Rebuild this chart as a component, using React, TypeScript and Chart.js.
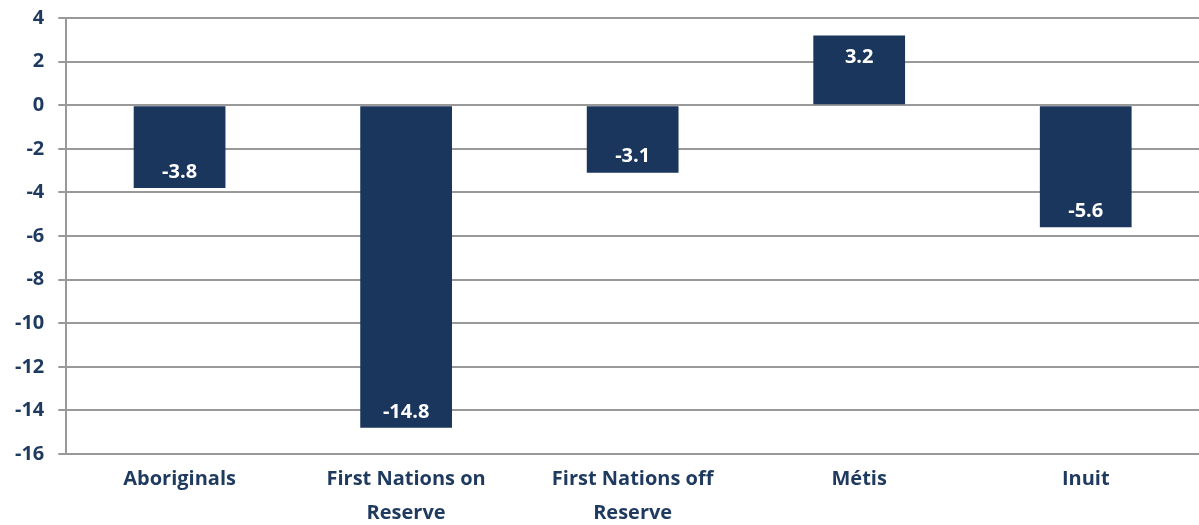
import React, { useEffect, useRef } from "react";
import { Chart, registerables } from "chart.js";

Chart.register(...registerables);

const categories: (string | string[])[] = [
  "Aboriginals",
  ["First Nations on", "Reserve"],
  ["First Nations off", "Reserve"],
  "Métis",
  "Inuit",
];
const values: number[] = [-3.8, -14.8, -3.1, 3.2, -5.6];
const yMin = -16;
const yMax = 4;
const yStep = 2;

const BAR = "#1b365d";
const TEXT = "#1f3a5f";
const FONT = "'Open Sans', sans-serif";

const labelPlugin = {
  id: "barLabels",
  afterDatasetsDraw(chart: any) {
    const ctx = chart.ctx;
    const meta = chart.getDatasetMeta(0);
    ctx.save();
    ctx.fillStyle = "#ffffff";
    ctx.font = `bold 20px ${FONT}`;
    ctx.textAlign = "center";
    ctx.textBaseline = "middle";
    meta.data.forEach((bar: any, i: number) => {
      const v = values[i];
      const y = v < 0 ? bar.y - 16 : bar.y + 22;
      ctx.fillText(v.toFixed(1), bar.x, y);
    });
    ctx.restore();
  },
};

export default function App() {
  const ref = useRef<HTMLCanvasElement | null>(null);
  useEffect(() => {
    document.body.style.margin = "0";
    const chart = new Chart(ref.current as HTMLCanvasElement, {
      type: "bar",
      data: {
        labels: categories,
        datasets: [
          {
            data: values,
            backgroundColor: BAR,
            barPercentage: 0.405,
            categoryPercentage: 1,
          },
        ],
      },
      options: {
        animation: false,
        responsive: false,
        maintainAspectRatio: false,
        layout: { padding: { top: 2, right: 0, left: 1, bottom: 0 } },
        plugins: { legend: { display: false }, tooltip: { enabled: false } },
        scales: {
          x: {
            grid: { display: false, drawTicks: false },
            border: { display: false },
            ticks: {
              color: TEXT,
              font: { family: FONT, size: 20, weight: "bold", lineHeight: 1.7 },
              padding: 8,
              maxRotation: 0,
              autoSkip: false,
            },
          },
          y: {
            min: yMin,
            max: yMax,
            grid: {
              color: "#999999",
              lineWidth: 2,
              tickLength: 8,
              drawTicks: true,
            },
            border: { display: true, color: "#999999", width: 2 },
            ticks: {
              stepSize: yStep,
              color: TEXT,
              font: { family: FONT, size: 20, weight: "bold" },
              padding: 14,
            },
          },
        },
      },
      plugins: [labelPlugin],
    });
    return () => chart.destroy();
  }, []);
  return (
    <div style={{ width: 1199, height: 525, overflow: "hidden" }}>
      <canvas
        ref={ref}
        width={1199}
        height={546}
        style={{ display: "block", marginTop: -8 }}
      />
    </div>
  );
}
